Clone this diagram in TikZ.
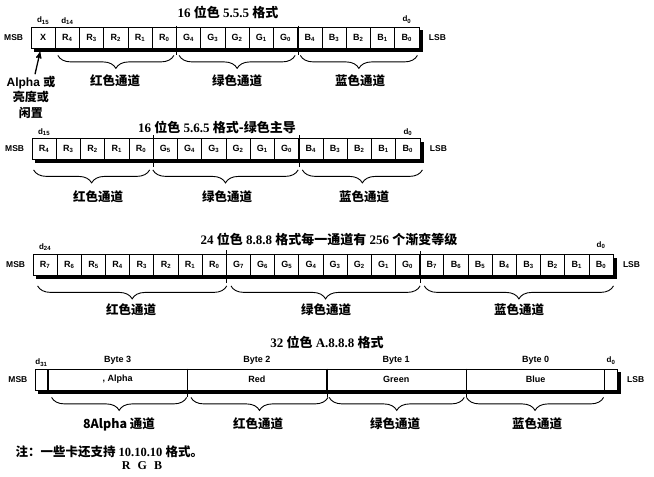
\documentclass[tikz,border=0pt]{standalone}
\usepackage{fontspec}
\setmainfont{Liberation Serif}
\setsansfont{Liberation Sans}
\newfontfamily\cjk{Noto Sans CJK SC}
\usepackage{tikz}
\usetikzlibrary{arrows,calc,positioning,backgrounds,decorations.pathreplacing}

\newcommand{\zh}[1]{{\cjk #1}}
\newcommand{\sub}[1]{\textsubscript{#1}}

\begin{document}
\begin{tikzpicture}[x=1pt,y=-1pt,
    cell/.style={draw,fill=white,line width=0.8pt,minimum width=24.25pt,minimum height=21pt,inner sep=0pt,font=\sffamily\bfseries\fontsize{9}{9}\selectfont},
    bytecell/.style={cell,minimum width=139.3pt,font=\sffamily\bfseries\fontsize{9}{9}\selectfont},
    endcell/.style={cell,minimum width=12.5pt},
    title/.style={font=\bfseries\fontsize{13}{13}\selectfont},
    chan/.style={font=\cjk\bfseries\fontsize{12.5}{12.5}\selectfont},
    tag/.style={font=\sffamily\bfseries\fontsize{8.5}{8.5}\selectfont},
    bit/.style={font=\sffamily\bfseries\fontsize{8}{8}\selectfont,inner sep=1pt},
    bytelab/.style={font=\sffamily\bfseries\fontsize{9}{9}\selectfont,inner sep=1pt},
    brc/.style={decorate,decoration={brace,mirror,amplitude=13pt},line width=0.9pt},
    cut/.style={line width=0.9pt}]
  \useasboundingbox (0,0) rectangle (654,477);

  % 16 bit 5.5.5
  \node[title] (t1) at (228,12) {16 \zh{位色} 5.5.5 \zh{格式}};
  \foreach \t [count=\i] in {X,R\sub4,R\sub3,R\sub2,R\sub1,R\sub0,G\sub4,G\sub3,G\sub2,G\sub1,G\sub0,B\sub4,B\sub3,B\sub2,B\sub1,B\sub0}
    \node[cell] (r1c\i) at ({31+24.25*(\i-0.5)},37.5) {\t};
  \node[tag,left=4pt of r1c1] (msb1) {MSB};
  \node[tag,right=6pt of r1c16] (lsb1) {LSB};
  \node[bit,above=1pt of r1c1] (r1d15) {d\sub{15}};
  \node[bit,above=1pt of r1c2] (r1d14) {d\sub{14}};
  \node[bit,above=2pt of r1c16] (r1d0) {d\sub{0}};
  \draw[cut] ($(r1c6.north east)+(0,-1)$) -- ($(r1c6.south east)+(0,7)$);
  \draw[cut] ($(r1c11.north east)+(0,-1)$) -- ($(r1c11.south east)+(0,7)$);
  \draw[brc] ($(r1c2.south west)+(3,7)$) -- ($(r1c6.south east)+(-3,7)$);
  \draw[brc] ($(r1c7.south west)+(3,7)$) -- ($(r1c11.south east)+(-3,7)$);
  \draw[brc] ($(r1c12.south west)+(3,7)$) -- ($(r1c16.south east)+(-2,7)$);
  \node[chan] (red1) at (115,81) {红色通道};
  \node[chan] (green1) at (237,81) {绿色通道};
  \node[chan] (blue1) at (360,81) {蓝色通道};
  \node[font=\sffamily\bfseries\fontsize{12}{15.5}\selectfont,align=center] (alpha) at (31,97) {Alpha \zh{或}\\\zh{亮度或}\\\zh{闲置}};
  \draw[->,>=stealth',line width=1.3pt] ($(alpha.north)+(4,2)$) -- ($(r1c1.south)+(-3,3.5)$);

  % 16 bit 5.6.5
  \node[title] (t2) at (217,127) {16 \zh{位色} 5.6.5 \zh{格式-绿色主导}};
  \foreach \t [count=\i] in {R\sub4,R\sub3,R\sub2,R\sub1,R\sub0,G\sub5,G\sub4,G\sub3,G\sub2,G\sub1,G\sub0,B\sub4,B\sub3,B\sub2,B\sub1,B\sub0}
    \node[cell] (r2c\i) at ({32+24.25*(\i-0.5)},149) {\t};
  \node[tag,left=4pt of r2c1] (msb2) {MSB};
  \node[tag,right=6pt of r2c16] (lsb2) {LSB};
  \node[bit,above=1pt of r2c1] (r2d15) {d\sub{15}};
  \node[bit,above=1pt of r2c16] (r2d0) {d\sub{0}};
  \draw[cut] ($(r2c5.north east)+(0,-3)$) -- ($(r2c5.south east)+(0,7)$);
  \draw[cut] ($(r2c11.north east)+(0,-3)$) -- ($(r2c11.south east)+(0,7)$);
  \draw[brc] ($(r2c1.south west)+(2,10)$) -- ($(r2c5.south east)+(-4,10)$);
  \draw[brc] ($(r2c6.south west)+(0,10)$) -- ($(r2c11.south east)+(-1,10)$);
  \draw[brc] ($(r2c12.south west)+(4,10)$) -- ($(r2c16.south east)+(2,10)$);
  \node[chan] (red2) at (98,197) {红色通道};
  \node[chan] (green2) at (227,197) {绿色通道};
  \node[chan] (blue2) at (364,197) {蓝色通道};

  % 24 bit 8.8.8
  \node[title] (t3) at (329,240) {24 \zh{位色} 8.8.8 \zh{格式每一通道有} 256 \zh{个渐变等级}};
  \foreach \t [count=\i] in {R\sub7,R\sub6,R\sub5,R\sub4,R\sub3,R\sub2,R\sub1,R\sub0,G\sub7,G\sub6,G\sub5,G\sub4,G\sub3,G\sub2,G\sub1,G\sub0,B\sub7,B\sub6,B\sub5,B\sub4,B\sub3,B\sub2,B\sub1,B\sub0}
    \node[cell,minimum width=24.17pt] (r3c\i) at ({33+24.17*(\i-0.5)},265) {\t};
  \node[tag,left=4pt of r3c1] (msb3) {MSB};
  \node[tag,right=6pt of r3c24] (lsb3) {LSB};
  \node[bit,above=2pt of r3c1] (r3d24) {d\sub{24}};
  \node[bit,above=4pt of r3c24] (r3d0) {d\sub{0}};
  \draw[cut] ($(r3c8.north east)+(0,-4)$) -- ($(r3c8.south east)+(0,7)$);
  \draw[cut] ($(r3c16.north east)+(0,-3)$) -- ($(r3c16.south east)+(0,7)$);
  \draw[brc] ($(r3c1.south west)+(5,10)$) -- ($(r3c8.south east)+(0,10)$);
  \draw[brc] ($(r3c9.south west)+(5,10)$) -- ($(r3c16.south east)+(0,10)$);
  \draw[brc] ($(r3c17.south west)+(5,10)$) -- ($(r3c24.south east)+(0,10)$);
  \node[chan] (red3) at (131,310) {红色通道};
  \node[chan] (green3) at (326,310) {绿色通道};
  \node[chan] (blue3) at (519,310) {蓝色通道};

  % 32 bit A.8.8.8
  \node[title] (t4) at (327,342) {32 \zh{位色} A.8.8.8 \zh{格式}};
  \node[endcell] (r4c0) at (41.5,379.5) {};
  \foreach \t [count=\i] in {{, Alpha},Red,Green,Blue}
    \node[bytecell] (r4c\i) at ({48+139.3*(\i-0.5)},379.5) {\t};
  \node[endcell] (r4c5) at (611,379.5) {};
  \node[tag,left=4pt of r4c0] (msb4) {MSB};
  \node[tag,right=6pt of r4c5] (lsb4) {LSB};
  \node[bit,above=1pt of r4c0] (r4d31) {d\sub{31}};
  \node[bit,above=3pt of r4c5] (r4d0) {d\sub{0}};
  \foreach \b [count=\i] in {3,2,1,0}
    \node[bytelab,above=3pt of r4c\i] (byte\b) {Byte \b};
  \foreach \i in {1,2,3}
    \draw[cut] (r4c\i.north east) -- ($(r4c\i.south east)+(0,7)$);
  \draw[brc] ($(r4c1.south west)+(4,7)$) -- ($(r4c1.south east)+(-1,7)$);
  \draw[brc] ($(r4c2.south west)+(4,7)$) -- ($(r4c2.south east)+(1,7)$);
  \draw[brc] ($(r4c3.south west)+(3,7)$) -- ($(r4c3.south east)+(-2,7)$);
  \draw[brc] ($(r4c4.south west)+(1,7)$) -- ($(r4c4.south east)+(-2,7)$);
  \node[chan] (alpha4) at (119,424) {8Alpha 通道};
  \node[chan] (red4) at (258,424) {红色通道};
  \node[chan] (green4) at (395,424) {绿色通道};
  \node[chan] (blue4) at (537,424) {蓝色通道};

  % note
  \node[anchor=west,font=\bfseries\fontsize{12.5}{12.5}\selectfont] (note) at (12,452) {\zh{注：一些卡还支持} 10.10.10 \zh{格式。}};
  \node[font=\bfseries\fontsize{12}{12}\selectfont] (rgb) at (142,466) {R\hspace{0.6em}G\hspace{0.6em}B};

  % drop shadows
  \begin{scope}[on background layer]
    \fill ($(r1c1.north west)+(3.5,3.5)$) rectangle ($(r1c16.south east)+(3.5,3.5)$);
    \fill ($(r2c1.north west)+(3.5,3.5)$) rectangle ($(r2c16.south east)+(3.5,3.5)$);
    \fill ($(r3c1.north west)+(3.5,3.5)$) rectangle ($(r3c24.south east)+(3.5,3.5)$);
    \fill ($(r4c0.north west)+(3.5,3.5)$) rectangle ($(r4c5.south east)+(3.5,3.5)$);
  \end{scope}
\end{tikzpicture}
\end{document}
